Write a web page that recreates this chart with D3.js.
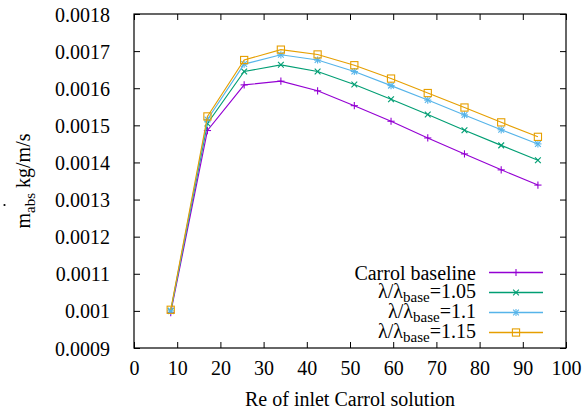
<!DOCTYPE html>
<html>
<head>
<meta charset="utf-8">
<script src="https://cdn.jsdelivr.net/npm/d3@7"></script>
<style>
  html, body { margin: 0; padding: 0; background: #fff; }
</style>
</head>
<body>
<svg id="chart" width="587" height="414" style='font-family: "Liberation Serif", Times, serif'></svg>
<script>
// Reynolds number of the inlet solution
const reynolds = [8.5, 17, 25.5, 34, 42.5, 51, 59.5, 68, 76.5, 85, 93.5];

// Absorbed mass flow rate (kg/m/s) for each thermal conductivity ratio
const baseline = [0.000995, 0.001486, 0.001609, 0.001619, 0.001593, 0.001553, 0.001511, 0.001466, 0.001423, 0.001380, 0.001339];
const ratio105 = [0.001000, 0.001505, 0.001645, 0.001663, 0.001645, 0.001610, 0.001570, 0.001529, 0.001487, 0.001446, 0.001406];
const ratio110 = [0.001000, 0.001516, 0.001665, 0.001690, 0.001676, 0.001645, 0.001607, 0.001568, 0.001528, 0.001488, 0.001450];
const ratio115 = [0.001003, 0.001524, 0.001676, 0.001704, 0.001691, 0.001662, 0.001626, 0.001587, 0.001548, 0.001508, 0.001469];

const xTicks = [0, 10, 20, 30, 40, 50, 60, 70, 80, 90, 100];
const yTicks = [0.0009, 0.001, 0.0011, 0.0012, 0.0013, 0.0014, 0.0015, 0.0016, 0.0017, 0.0018];

const series = [
  { name: "Carrol baseline", ratio: null, values: baseline, color: "#9400d3", marker: "plus" },
  { name: "λ/λ", ratio: "1.05", values: ratio105, color: "#009e73", marker: "cross" },
  { name: "λ/λ", ratio: "1.1", values: ratio110, color: "#56b4e9", marker: "star" },
  { name: "λ/λ", ratio: "1.15", values: ratio115, color: "#e69f00", marker: "square" }
];

const serif = '"Liberation Serif", Times, serif';
const svg = d3.select("#chart");
const plotLeft = 134, plotRight = 566, plotTop = 14, plotBottom = 348;

const x = d3.scaleLinear().domain([0, 100]).range([plotLeft, plotRight]);
const y = d3.scaleLinear().domain([0.0009, 0.0018]).range([plotBottom, plotTop]);

const fmtY = v => String(+v.toFixed(4));
const tickLen = 6;

// Axes with inward ticks, mirrored on the top and right sides
const axisBottom = d3.axisBottom(x).tickValues(xTicks).tickSize(-tickLen).tickPadding(13).tickFormat(d3.format("d"));
const axisTop = d3.axisTop(x).tickValues(xTicks).tickSize(-tickLen).tickFormat("");
const axisLeft = d3.axisLeft(y).tickValues(yTicks).tickSize(-tickLen).tickPadding(24).tickFormat(fmtY);
const axisRight = d3.axisRight(y).tickValues(yTicks).tickSize(-tickLen).tickFormat("");

function styleAxis(g) {
  g.attr("font-family", null).attr("font-size", null);
  g.select(".domain").remove();
  g.selectAll(".tick line").attr("stroke", "#000").attr("stroke-width", 1);
  g.selectAll(".tick text").attr("fill", "#000").style("font-family", serif).style("font-size", "20px");
}

svg.append("g").attr("transform", `translate(0,${plotBottom})`).call(axisBottom).call(styleAxis);
svg.append("g").attr("transform", `translate(0,${plotTop})`).call(axisTop).call(styleAxis);
svg.append("g").attr("transform", `translate(${plotLeft},0)`).call(axisLeft).call(styleAxis)
  .selectAll(".tick text").attr("dy", "0.35em");
svg.append("g").attr("transform", `translate(${plotRight},0)`).call(axisRight).call(styleAxis);

// Plot frame
svg.append("rect")
  .attr("x", plotLeft).attr("y", plotTop)
  .attr("width", plotRight - plotLeft).attr("height", plotBottom - plotTop)
  .attr("fill", "none").attr("stroke", "#000").attr("stroke-width", 1.2);

// Point markers
function drawMarker(g, type, cx, cy, color) {
  const s = 3.6;
  const line = (x1, y1, x2, y2) => g.append("line")
    .attr("x1", cx + x1).attr("y1", cy + y1).attr("x2", cx + x2).attr("y2", cy + y2)
    .attr("stroke", color).attr("stroke-width", 1.1);
  if (type === "plus" || type === "star") {
    line(-s, 0, s, 0); line(0, -s, 0, s);
  }
  if (type === "cross" || type === "star") {
    line(-s * 0.8, -s * 0.8, s * 0.8, s * 0.8); line(-s * 0.8, s * 0.8, s * 0.8, -s * 0.8);
  }
  if (type === "square") {
    g.append("rect").attr("x", cx - s).attr("y", cy - s).attr("width", 2 * s).attr("height", 2 * s)
      .attr("fill", "none").attr("stroke", color).attr("stroke-width", 1.1);
  }
}

const lineGen = d3.line().x((d, i) => x(reynolds[i])).y(d => y(d));
const plot = svg.append("g");
series.forEach(s => {
  plot.append("path").datum(s.values)
    .attr("d", lineGen).attr("fill", "none")
    .attr("stroke", s.color).attr("stroke-width", 1.1);
  const mg = plot.append("g");
  s.values.forEach((v, i) => drawMarker(mg, s.marker, x(reynolds[i]), y(v), s.color));
});

// Legend
const legTextX = 476, legLine = [489, 543], legY0 = 272.5, legStep = 20;
series.forEach((s, i) => {
  const ly = legY0 + i * legStep;
  const t = svg.append("text").attr("x", legTextX).attr("y", ly + (s.ratio === null ? 7.5 : 5.5))
    .attr("text-anchor", "end").style("font-family", serif).style("font-size", "20px");
  if (s.ratio === null) {
    t.text(s.name);
  } else {
    t.append("tspan").text(s.name);
    t.append("tspan").style("font-size", "15px").attr("dy", 4).text("base");
    t.append("tspan").attr("dy", -4).text("=" + s.ratio);
  }
  svg.append("line").attr("x1", legLine[0]).attr("x2", legLine[1]).attr("y1", ly).attr("y2", ly)
    .attr("stroke", s.color).attr("stroke-width", 1.3);
  drawMarker(svg.append("g"), s.marker, (legLine[0] + legLine[1]) / 2, ly, s.color);
});

// Axis titles
svg.append("text").attr("x", x(50)).attr("y", 406)
  .attr("text-anchor", "middle").style("font-family", serif).style("font-size", "20px")
  .text("Re of inlet Carrol solution");

const yTitle = svg.append("text")
  .attr("transform", "translate(30,181) rotate(-90)")
  .attr("text-anchor", "middle").style("font-family", serif).style("font-size", "20px");
yTitle.append("tspan").text("m");
yTitle.append("tspan").style("font-size", "15px").attr("dy", 5).text("abs");
yTitle.append("tspan").attr("dy", -5).text(" kg/m/s");
// dot over the mass-flow symbol
svg.append("circle").attr("cx", 4.5).attr("cy", 205).attr("r", 1.1).attr("fill", "#000");
</script>
</body>
</html>
